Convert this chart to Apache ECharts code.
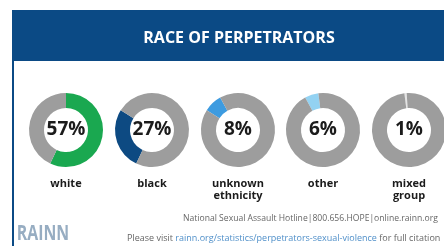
<!DOCTYPE html>
<html>
<head>
<meta charset="utf-8">
<script src="https://cdn.jsdelivr.net/npm/echarts@6/dist/echarts.min.js"></script>
<style>
  html, body { margin: 0; padding: 0; background: #fff; }
  #chart { width: 444px; height: 246px; }
</style>
</head>
<body>
<div id="chart"></div>
<script>
// data
var categories = ["white", "black", "unknown\nethnicity", "other", "mixed\ngroup"];
var percents = [57, 27, 8, 6, 1];
var ringColors = ["#1aa850", "#0d4a82", "#3d9be0", "#93d2f2", "#e4e4e4"];

var FONT = "Open Sans";
var centersX = [66, 152, 238, 323, 409];
var centerY = 130;

function buildSeries() {
    var list = [];
    var done = 0;
    for (var i = 0; i < percents.length; i++) {
        list.push({
            type: "pie",
            center: [centersX[i], centerY],
            radius: [22, 37],
            startAngle: 90 - done * 3.6,
            clockwise: true,
            silent: true,
            animation: false,
            labelLine: { show: false },
            data: [
                { value: percents[i], itemStyle: { color: ringColors[i] },
                  label: { show: true, position: "center", formatter: percents[i] + "%",
                           fontFamily: FONT, fontWeight: "bold", fontSize: 19, color: "#1b1b1b" } },
                { value: 100 - percents[i], itemStyle: { color: "#9d9d9d" }, label: { show: false } }
            ]
        });
        done += percents[i];
    }
    return list;
}

function buildGraphics() {
    var g = [
        // header band and left frame line
        { type: "rect", shape: { x: 12, y: 10, width: 440, height: 51 }, style: { fill: "#0b4a85" } },
        { type: "rect", shape: { x: 12, y: 61, width: 2, height: 190 }, style: { fill: "#0b4a85" } },
        { type: "text", x: 239, y: 38, style: { text: "RACE OF PERPETRATORS", fill: "#fff",
            font: "bold 16px 'Open Sans'", textAlign: "center", textVerticalAlign: "middle" } },
        // footer
        { type: "text", x: 43, y: 234, scaleX: 0.72, style: { text: "RAINN", fill: "#97adc2",
            font: "bold 22px 'Open Sans'", textAlign: "center", textVerticalAlign: "middle" } },
        { type: "text", x: 183, y: 219, style: { text: "National Sexual Assault Hotline|800.656.HOPE|online.rainn.org",
            fill: "#666", font: "8.6px 'Open Sans'", textVerticalAlign: "middle" } },
        { type: "text", x: 127, y: 238, style: {
            rich: { a: { fill: "#666", font: "9px 'Open Sans'" }, b: { fill: "#4f8fc9", font: "9px 'Open Sans'" } },
            text: "{a|Please visit }{b|rainn.org/statistics/perpetrators-sexual-violence}{a| for full citation}",
            textVerticalAlign: "middle" } }
    ];
    for (var i = 0; i < categories.length; i++) {
        g.push({ type: "text", x: centersX[i], y: 178, style: { text: categories[i], fill: "#1b1b1b",
            font: "bold 11px 'Open Sans'", textAlign: "center", textVerticalAlign: "top", lineHeight: 12 } });
    }
    return g;
}

var myChart = echarts.init(document.getElementById("chart"));
myChart.setOption({
    backgroundColor: "#fff",
    animation: false,
    graphic: buildGraphics(),
    series: buildSeries()
});
</script>
</body>
</html>
